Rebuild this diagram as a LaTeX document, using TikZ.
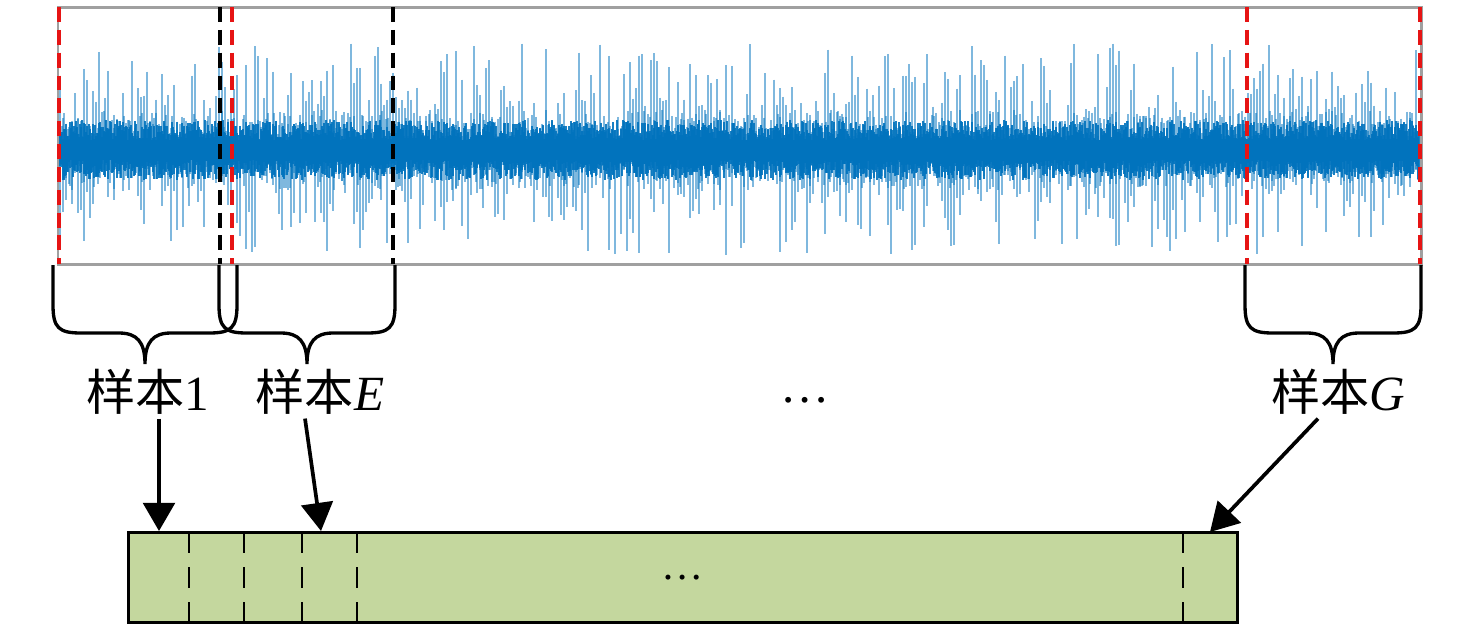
\documentclass[tikz,border=0pt]{standalone}
\usepackage{fontspec}
\setmainfont{Liberation Serif}
\newfontfamily\cjk{Noto Sans CJK SC}
\usepackage{tikz}
\usetikzlibrary{arrows.meta, positioning, calc}
\definecolor{sigblue}{RGB}{0, 114, 189}
\definecolor{boxgray}{RGB}{160, 160, 160}
\definecolor{samplered}{RGB}{230, 20, 20}
\definecolor{bargreen}{RGB}{196, 215, 158}

\tikzset{
    spike/.style={sigblue, line width=0.6pt, opacity=0.5},
    core/.style={sigblue, line width=0.6pt, opacity=0.9},
    redcut/.style={samplered, line width=2pt, dash pattern=on 8.5pt off 4.5pt},
    blackcut/.style={black, line width=2pt, dash pattern=on 8.5pt off 4.5pt},
    brace/.style={black, line width=1.9pt},
    lbl/.style={font=\fontsize{28}{30}\selectfont, inner sep=2pt},
    arr/.style={black, line width=2.1pt, -{Triangle[width=18pt, length=16pt]}},
    divider/.style={black, line width=1.6pt, dash pattern=on 12pt off 8pt}
}

\begin{document}
\begin{tikzpicture}[x=0.02cm, y=-0.02cm]
    \useasboundingbox (0,0) rectangle (1476,630);

    % signal
    \pgfmathsetseed{11}
    \foreach \i in {60,63,...,1418} {
        \pgfmathsetmacro\up{20+88*rnd^1.9}
        \pgfmathsetmacro\dn{20+85*rnd^1.9}
        \draw[spike] (\i,150-\up) -- (\i,150+\dn);
    }
    \foreach \i in {60,62,...,1419} {
        \pgfmathsetmacro\up{14+26*rnd^2}
        \pgfmathsetmacro\dn{14+26*rnd^2}
        \draw[spike] (\i,150-\up) -- (\i,150+\dn);
    }
    \foreach \i in {60,61,...,1419} {
        \pgfmathsetmacro\up{10+20*rnd}
        \pgfmathsetmacro\dn{10+20*rnd}
        \draw[core] (\i,150-\up) -- (\i,150+\dn);
    }
    \draw[boxgray, line width=1.7pt] (58,7) rectangle (1421,264);

    % sample windows
    \foreach \x in {59,232,1247,1420}
        \draw[redcut] (\x,7) -- (\x,264);
    \foreach \x in {220,393}
        \draw[blackcut] (\x,7) -- (\x,264);

    % braces
    \foreach \xl/\xr in {53/237, 219/395, 1245/1421} {
        \pgfmathsetmacro\xm{(\xl+\xr)/2}
        \draw[brace] (\xl,265) -- (\xl,305)
            .. controls (\xl,328) and (\xl+6,333) .. (\xl+28,333)
            -- (\xm-26,333)
            .. controls (\xm-8,333) and (\xm,342) .. (\xm,364)
            .. controls (\xm,342) and (\xm+8,333) .. (\xm+26,333)
            -- (\xr-28,333)
            .. controls (\xr-6,333) and (\xr,328) .. (\xr,305)
            -- (\xr,265);
    }

    % labels
    \node[lbl] (s1) at (148,392) {{\cjk 样本}1};
    \node[lbl] (sE) at (320,392) {{\cjk 样本}\textit{E}};
    \node[lbl] (dots) at (805,400) {\ldots};
    \node[lbl] (sG) at (1338,392) {{\cjk 样本}\textit{G}};

    % sample bar
    \node[draw=black, line width=1.7pt, fill=bargreen, minimum width=22.2cm,
          minimum height=1.8cm, inner sep=0pt] (bar) at (683,577) {};
    \foreach \x in {189,244,302,357,1183}
        \draw[divider] (\x,532) -- (\x,622);
    \node[lbl, font=\fontsize{24}{26}\selectfont] (bardots) at (683,578) {\ldots};

    % arrows
    \coordinate (p1) at (159,531);
    \coordinate (pE) at (321,531);
    \coordinate (pG) at (1210,532);
    \draw[arr] (s1.south -| p1) -- (p1);
    \draw[arr] ([xshift=-0.3cm]sE.south) -- (pE);
    \draw[arr] ([xshift=-0.4cm]sG.south) -- (pG);
\end{tikzpicture}
\end{document}
